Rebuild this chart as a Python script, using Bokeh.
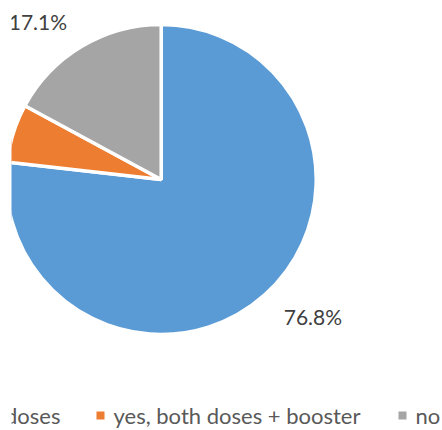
import math
from bokeh.plotting import figure
from bokeh.models import Range1d, ColumnDataSource
from bokeh.core.properties import value
from bokeh.embed import file_html
from bokeh.resources import INLINE

categories = ["yes, both doses", "yes, both doses + booster", "no"]
shares = [76.8, 6.1, 17.1]
labels = ["76.8%", "6.1%", "17.1%"]
colors = ["#5B9BD5", "#ED7D31", "#A5A5A5"]

W, H = 442, 430
LEFT = 11
p = figure(width=W, height=H, output_backend="svg", toolbar_location=None,
           x_range=Range1d(LEFT, W), y_range=Range1d(0, H),
           min_border_left=LEFT, min_border_right=0, min_border_top=0, min_border_bottom=0)
p.axis.visible = False
p.grid.visible = False
p.outline_line_color = None
p.background_fill_color = "white"

cx, cy, R = 160.7, H - 179, 155
total = sum(shares)
starts, ends, mids = [], [], []
cum = 0.0
for s in shares:
    a0 = math.pi / 2 - 2 * math.pi * (cum + s) / total
    a1 = math.pi / 2 - 2 * math.pi * cum / total
    starts.append(a0)
    ends.append(a1)
    mids.append((a0 + a1) / 2)
    cum += s

src = ColumnDataSource(dict(start=starts, end=ends, color=colors, cat=categories))
p.wedge(x=cx, y=cy, radius=R, radius_units="screen", start_angle="start", end_angle="end",
        fill_color="color", line_color="white", line_width=3.5, source=src)

rl = 184
lx = [cx + rl * math.cos(m) for m in mids]
ly = [cy + rl * math.sin(m) for m in mids]
align = ["left" if math.cos(m) >= 0 else "right" for m in mids]
lsrc = ColumnDataSource(dict(x=lx, y=ly, t=labels, a=align))
p.text(x="x", y="y", text="t", text_align="a", text_baseline="middle",
       text_font=value("Lato"), text_font_size="21px", text_color="#404040", source=lsrc)

# legend (horizontal, clipped at left like the reference)
ly_leg = H - 415
first_text_right = 60
sq_x = [first_text_right - 170, 100, 402]
tx = [first_text_right, 113, 415]
tal = ["right", "left", "left"]
p.scatter(x=sq_x, y=[ly_leg] * 3, marker="square", size=8, fill_color=colors, line_color=None)
p.text(x=tx, y=[H - 415] * 3, text=categories, text_align=tal, text_baseline="middle",
       text_font=value("Lato"), text_font_size="22px", text_color="#595959")

open("out.html", "w").write(file_html(p, INLINE))
